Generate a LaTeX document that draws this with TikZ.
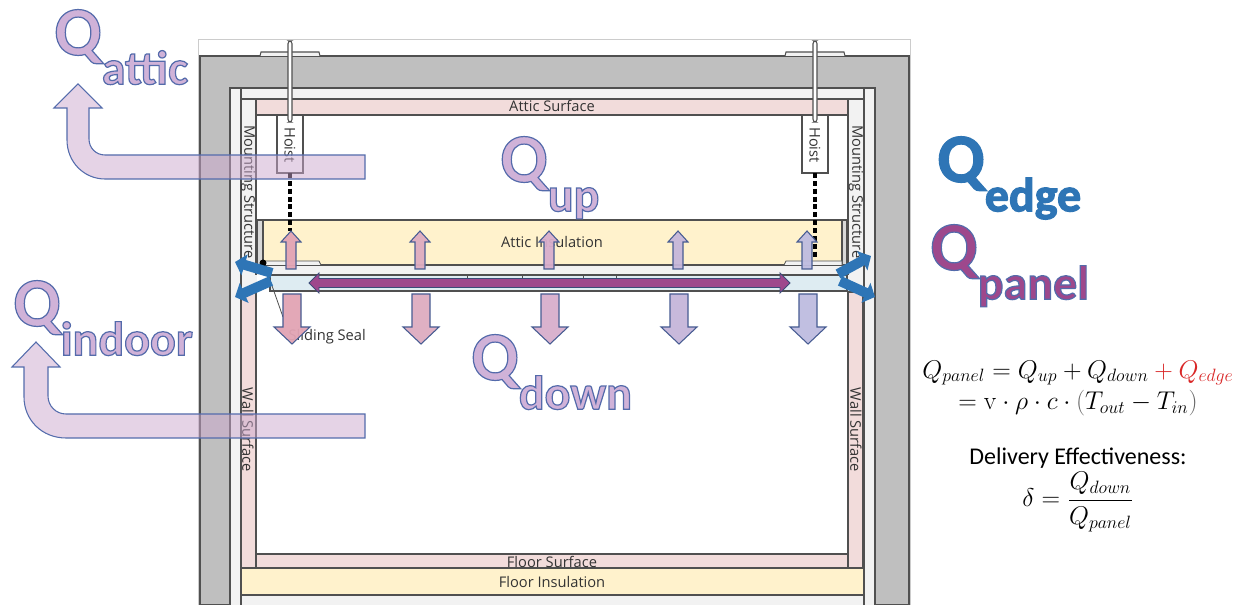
\documentclass[tikz,border=0pt]{standalone}
\usepackage{amsmath,amssymb}
\usepackage[no-math]{fontspec}
\setmainfont{Carlito}[BoldFont=Carlito Bold]
\newfontfamily\labelfont{Open Sans}
\usetikzlibrary{positioning,arrows.meta,calc}
\definecolor{wallgray}{RGB}{191,191,191}
\definecolor{linegray}{RGB}{80,80,80}
\definecolor{airgray}{RGB}{242,242,242}
\definecolor{surfpink}{RGB}{242,220,219}
\definecolor{insulyellow}{RGB}{255,242,204}
\definecolor{panelblue}{RGB}{222,236,242}
\definecolor{edgeblue}{RGB}{46,117,182}
\definecolor{panelpurple}{RGB}{158,72,140}
\definecolor{qlav}{RGB}{208,178,216}
\definecolor{qline}{RGB}{84,108,172}
\definecolor{heatA}{RGB}{226,164,180}
\definecolor{heatB}{RGB}{222,172,192}
\definecolor{heatC}{RGB}{216,174,204}
\definecolor{heatD}{RGB}{198,182,218}
\definecolor{heatE}{RGB}{190,188,224}
\definecolor{bendfill}{RGB}{204,168,206}
\definecolor{edgered}{RGB}{217,38,38}
\newcommand{\bigtxt}[3]{%
    {\color{#1}\special{pdf:code 2 Tr 0.9 w #2 RG}#3\special{pdf:code 0 Tr 0.4 w}}}
\newcommand{\qlabel}[3]{%
    \fontsize{52}{52}\selectfont\bfseries\bigtxt{#1}{#2}{Q}%
    \raisebox{-22pt}{\fontsize{36}{36}\selectfont\bigtxt{#1}{#2}{#3}}}
\tikzset{
    part/.style={draw=linegray,line width=0.8pt},
    lab/.style={font=\labelfont\fontsize{11}{12}\selectfont,text=black!80,inner sep=0pt},
    sidelab/.style={lab,rotate=-90},
    hoistline/.style={black,line width=2.4pt,dash pattern=on 3.7pt off 2.2pt},
    heat/.style={draw=qline!85!black,line width=0.8pt,fill opacity=0.95},
    bendarr/.style={draw=qline,line width=0.8pt,fill=bendfill,fill opacity=0.5},
    edgearr/.style={-{Triangle[length=7.5pt,width=16pt]},line width=7.5pt,edgeblue},
    qnode/.style={anchor=base west,inner sep=0pt},
    eqn/.style={inner sep=0pt,scale=1.115,font=\fontsize{17.28}{19}\selectfont}
}
\begin{document}
\begin{tikzpicture}[x=0.75pt,y=-0.75pt]
\useasboundingbox (0,0) rectangle (1242,605);
\fill[white] (0,0) rectangle (1242,605);
% building shell
\draw[black!20,line width=0.6pt] (198,605) -- (198,39) -- (910,39) -- (910,605);
\draw[part,fill=wallgray] (200,605) -- (200,56) -- (909,56) -- (909,605) -- (875,605) -- (875,88) -- (230,88) -- (230,605) -- cycle;
\fill[airgray] (231,89) rectangle (874,605);
\draw[part] (230,88) -- (875,88);
\draw[part] (241,88) -- (241,605);
\draw[part] (864,88) -- (864,605);
\draw[part] (241,99) -- (864,99);
% surfaces
\draw[part,fill=surfpink] (256,99) rectangle (848,115);
\draw[part,fill=surfpink] (241,292) rectangle (256,568);
\draw[part,fill=surfpink] (848,292) rectangle (863,568);
\fill[white] (257,116) rectangle (847,553);
\draw[part] (256,115) -- (256,275);
\draw[part] (848,115) -- (848,275);
\fill[airgray] (257,265) rectangle (847,275);
\draw[part,fill=surfpink] (256,554) rectangle (848,568);
\draw[part,fill=insulyellow] (241,568) rectangle (864,595);
\fill[airgray] (242,596) rectangle (863,605);
% attic insulation and panel
\draw[part,fill=wallgray!60] (257,220) rectangle (263,265);
\draw[part,fill=wallgray!60] (842,220) rectangle (847,265);
\draw[part,fill=insulyellow] (263,220) rectangle (842,265);
\draw[part,line width=0.6pt,fill=airgray] (263,265) -- (263,261) -- (319,261) -- (321,265);
\draw[part,line width=0.6pt,fill=airgray] (784,265) -- (786,261) -- (842,261) -- (842,265);
\draw[part,fill=panelblue] (270,275) rectangle (847,291);
\foreach \xt in {467,522,583,616}
    \draw[part,line width=0.6pt] (\xt,275) -- (\xt,278);
\fill[black] (263,263) circle (3.5);
\coordinate (sealtop) at (270,280);
\coordinate (sealend) at (283,317);
\draw[linegray,line width=0.6pt] (sealtop) -- (sealend);
% hoists
\foreach \xh/\name in {290/hoistL,815/hoistR}{
    \draw[part,fill=white] (\xh-13,115) rectangle (\xh+13,173);
    \draw[part,fill=airgray] (\xh-30,56) -- (\xh-29,52) -- (\xh+29,52) -- (\xh+30,56);
    \draw[part,rounded corners=2pt,fill=white] (\xh-2,41) rectangle (\xh+2,122);
    \node[sidelab] (\name) at (\xh,145) {Hoist};
}
\draw[hoistline] (290,173) -- (290,231);
\draw[hoistline] (815,173) -- (815,258);
% labels of the parts
\node[lab] (atticsurf) at (552,106) {Attic Surface};
\node[lab] (atticins) at (552,242) {Attic Insulation};
\node[lab] (floorsurf) at (552,562) {Floor Surface};
\node[lab] (floorins) at (552,582) {Floor Insulation};
\node[lab,anchor=east] (seal) at (366,337) {Sliding Seal};
\node[sidelab] (mountL) at (248,192) {Mounting Structure};
\node[sidelab] (mountR) at (856,192) {Mounting Structure};
\node[sidelab] (wallL) at (248,430) {Wall Surface};
\node[sidelab] (wallR) at (856,430) {Wall Surface};
% heat arrows
\foreach \xc/\colr in {291/heatA,420/heatB,549/heatC,678/heatD,807/heatE}{
    \draw[heat,fill=\colr] (\xc,231) -- (\xc+10,242) -- (\xc+5,242) -- (\xc+5,269) -- (\xc-5,269) -- (\xc-5,242) -- (\xc-10,242) -- cycle;
    \draw[heat,fill=\colr] (\xc+1,344) -- (\xc+19,327) -- (\xc+10,327) -- (\xc+10,294) -- (\xc-8,294) -- (\xc-8,327) -- (\xc-17,327) -- cycle;
}
\draw[qline!70!black,line width=0.7pt,fill=panelpurple] (309,283) -- (319,273) -- (319,278.5) -- (780,278.5) -- (780,273) -- (790,283) -- (780,293) -- (780,287.5) -- (319,287.5) -- (319,293) -- cycle;
\coordinate (edgeLa) at (272,273);
\coordinate (edgeLb) at (271,281);
\coordinate (edgeLc) at (235,262);
\coordinate (edgeLd) at (235,297);
\coordinate (edgeRa) at (838,274);
\coordinate (edgeRb) at (840,281);
\coordinate (edgeRc) at (871,256);
\coordinate (edgeRd) at (875,297);
\draw[edgearr] (edgeLa) -- (edgeLc);
\draw[edgearr] (edgeLb) -- (edgeLd);
\draw[edgearr] (edgeRa) -- (edgeRc);
\draw[edgearr] (edgeRb) -- (edgeRd);
% attic and indoor flows
\draw[bendarr] (365,155) -- (105,155) .. controls (96,155) and (89,148) .. (89,139) -- (89,108) -- (102,108) -- (78,84) -- (54,108) -- (67,108) -- (67,140) .. controls (67,162) and (84,179) .. (105,179) -- (365,179) -- cycle;
\draw[bendarr] (365,414) -- (66,414) .. controls (56,414) and (48,406) .. (48,396) -- (48,367) -- (60,367) -- (36,342) -- (12,367) -- (24,367) -- (24,397) .. controls (24,420) and (42,438) .. (66,438) -- (365,438) -- cycle;
% big labels
\node[qnode] (qattic) at (54,55) {\qlabel{qlav}{0.33 0.42 0.67}{attic}};
\node[qnode] (qup) at (500,182) {\qlabel{qlav}{0.33 0.42 0.67}{up}};
\node[qnode] (qindoor) at (13,326) {\qlabel{qlav}{0.33 0.42 0.67}{indoor}};
\node[qnode] (qdown) at (471,380) {\qlabel{qlav}{0.33 0.42 0.67}{down}};
\node[qnode] (qedge) at (937,182) {\qlabel{edgeblue}{0.18 0.46 0.71}{edge}};
\node[qnode] (qpanel) at (930,270) {\qlabel{panelpurple}{0.33 0.42 0.67}{panel}};
% equations
\node[eqn] (eqa) at (1078,373) {$Q_{panel}=Q_{up}+Q_{down}\mathbin{\textcolor{edgered}{+}}\textcolor{edgered}{Q_{edge}}$};
\node[eqn] (eqb) at (1078,403) {$=\mathrm{v}\cdot\rho\cdot c\cdot\textcolor{black!60}{(}T_{out}-T_{in}\textcolor{black!60}{)}$};
\node[inner sep=0pt,font=\fontsize{18}{20}\selectfont] (deliv) at (1078,458) {Delivery Effectiveness:};
\node[eqn] (eqc) at (1078,502) {$\delta=\dfrac{Q_{down}}{Q_{panel}}$};
\end{tikzpicture}
\end{document}
